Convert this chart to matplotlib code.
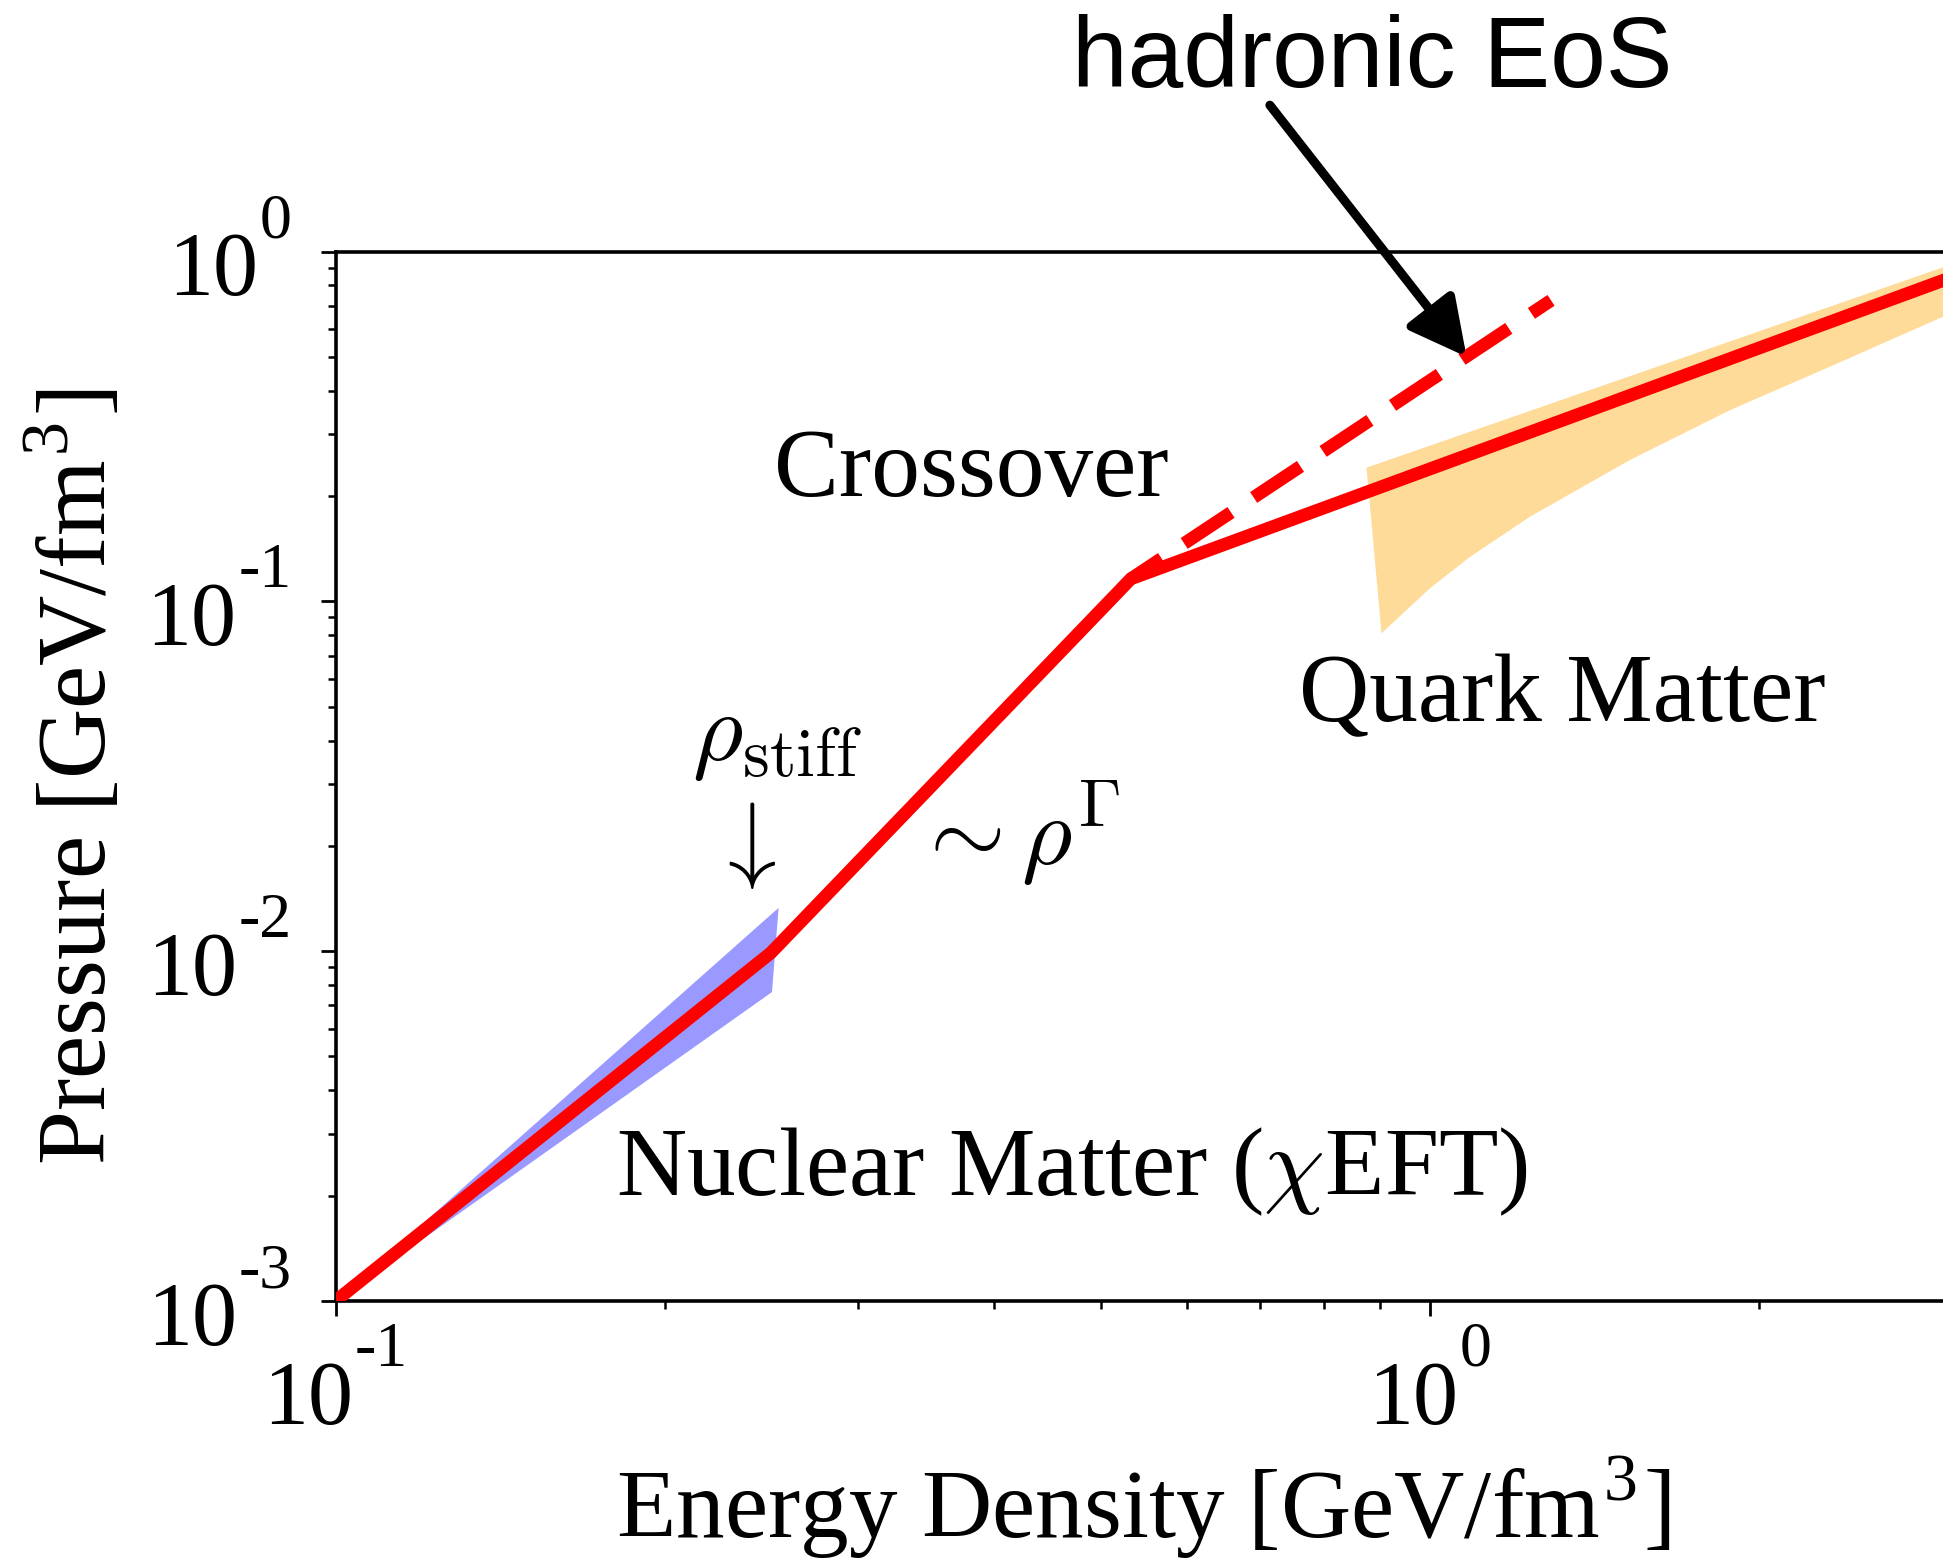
import numpy as np
import matplotlib.pyplot as plt
from matplotlib.ticker import NullFormatter
from matplotlib.transforms import ScaledTranslation

plt.rcParams['font.family'] = 'Liberation Serif'
plt.rcParams['mathtext.fontset'] = 'cm'
plt.rcParams['axes.linewidth'] = 2.6

# -- EoS (energy density [GeV/fm^3], pressure [GeV/fm^3])
eos_eps = [0.1, 0.25, 0.533, 3.0]
eos_p = [1e-3, 0.0099, 0.116, 0.845]

# hadronic extrapolation beyond the crossover
had_eps = [0.533, 1.29]
had_p = [0.116, 0.725]

# chiral EFT band (triangle)
nuc_eps = [0.1, 0.254, 0.2505]
nuc_p = [1e-3, 0.0133, 0.00764]

# pQCD band
qm_upper_eps = [0.875, 3.0]
qm_upper_p = [0.241, 0.92]
qm_lower_eps = [0.903, 1.0, 1.088, 1.234, 1.523, 1.88, 2.32, 2.943, 3.0]
qm_lower_p = [0.081, 0.109, 0.134, 0.1745, 0.2535, 0.352, 0.4686, 0.651, 0.667]

x_ticks = [0.1, 1.0]
x_tick_exps = ['-1', '0']
y_ticks = [1e-3, 1e-2, 1e-1, 1.0]
y_tick_exps = ['-3', '-2', '-1', '0']

fig = plt.figure(figsize=(19.43, 15.66), dpi=100)
ax = fig.add_axes([335.5 / 1943, 265 / 1566, 1616.7 / 1943, 1049.5 / 1566])

# bands
band_eps = qm_upper_eps + qm_lower_eps[::-1]
band_p = qm_upper_p + qm_lower_p[::-1]
ax.fill(band_eps, band_p, color='orange', alpha=0.4, lw=0, zorder=1)
ax.fill(nuc_eps, nuc_p, color='blue', alpha=0.4, lw=0, zorder=1)

# lines
lw = 9.3
ax.plot(had_eps, had_p, color='red', lw=lw, ls=(1.5, (4.35, 2.1)), zorder=2)
ax.plot(eos_eps, eos_p, color='red', lw=lw, zorder=3)

ax.set_xscale('log')
ax.set_yscale('log')
ax.set_xlim(0.1, 3.0)
ax.set_ylim(1e-3, 1.0)
ax.set_xticks(x_ticks)
ax.set_yticks(y_ticks)
for axis in (ax.xaxis, ax.yaxis):
    axis.set_major_formatter(NullFormatter())
    axis.set_minor_formatter(NullFormatter())
ax.tick_params(which='major', direction='out', length=11, width=2)
ax.tick_params(which='minor', direction='out', length=6, width=1.8)

# tick labels "10" + raised exponent
tick_fs = 65
sup_fs = 46
gap = 2
renderer = fig.canvas.get_renderer()


def shift(dx, dy):
    return ScaledTranslation(dx / fig.dpi, dy / fig.dpi, fig.dpi_scale_trans)


def power_label(pos, exp, trans, xy):
    base = ax.text(*xy(pos), '10', fontsize=tick_fs, ha='left', va='baseline',
                   transform=trans, clip_on=False)
    sup = ax.text(*xy(pos), exp, fontsize=sup_fs, ha='left', va='baseline',
                  transform=trans, clip_on=False)
    wb = base.get_window_extent(renderer).width
    ws = sup.get_window_extent(renderer).width
    return base, sup, wb, ws


for val, exp in zip(x_ticks, x_tick_exps):
    tr = ax.get_xaxis_transform()
    base, sup, wb, ws = power_label(val, exp, tr, lambda v: (v, 0))
    left = -(wb + gap + ws) / 2
    base.set_transform(tr + shift(left, -123))
    sup.set_transform(tr + shift(left + wb + gap, -65))

for val, exp in zip(y_ticks, y_tick_exps):
    tr = ax.get_yaxis_transform()
    base, sup, wb, ws = power_label(val, exp, tr, lambda v: (0, v))
    right = -43.5
    base.set_transform(tr + shift(right - ws - gap - wb, -44))
    sup.set_transform(tr + shift(right - ws, 14))

ax.set_xlabel(r'Energy Density [GeV/fm$^{\mathdefault{3}}$]', fontsize=70)
ax.set_ylabel(r'Pressure [GeV/fm$^{\mathdefault{3}}$]', fontsize=70)
ax.xaxis.label.set_va('baseline')
ax.yaxis.label.set_va('baseline')
ax.xaxis.set_label_coords(0.5, -0.2262)
ax.yaxis.set_label_coords(-0.142, 0.5)

# labels in the plot
ax.text(0.2516, 0.2, 'Crossover', fontsize=70, ha='left', va='baseline')
ax.text(0.7585, 0.0455, 'Quark Matter', fontsize=70, ha='left', va='baseline')
ax.text(0.1804, 0.002, r'Nuclear Matter ($\chi$EFT)', fontsize=70, ha='left', va='baseline')
ax.text(0.2115, 0.0352, r'$\rho_{\rm stiff}$', fontsize=70, ha='left', va='baseline')
ax.text(0.2356, 0.0201, r'$\downarrow$', fontsize=70, ha='center', va='center')
ax.text(0.3363, 0.0176, r'$\sim\rho^{\Gamma}$', fontsize=70, ha='left', va='baseline')

ax.text(0.471, 2.95, 'hadronic EoS', fontsize=72, family='Liberation Sans',
        ha='left', va='baseline', clip_on=False)
ax.annotate('', xy=(1.08, 0.50), xytext=(0.714, 2.62),
            arrowprops=dict(arrowstyle='-|>,head_length=0.58,head_width=0.3',
                            lw=6.5, color='black', shrinkA=0, shrinkB=0,
                            mutation_scale=60),
            annotation_clip=False)

fig.savefig('out.png', dpi=100)
